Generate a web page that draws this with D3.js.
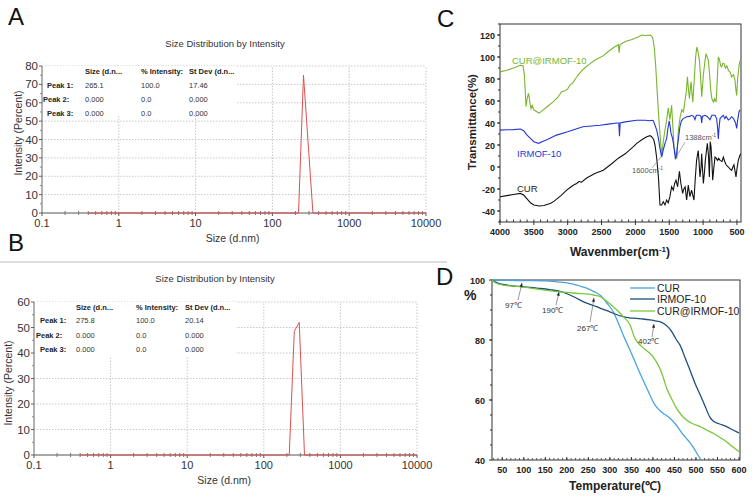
<!DOCTYPE html>
<html><head><meta charset="utf-8">
<script src="https://cdn.jsdelivr.net/npm/d3@7"></script>
<style>body{margin:0;background:#fff}svg{display:block;font-family:"Liberation Sans",Arial,sans-serif}</style>
</head><body>
<script>
// ---------- DATA ----------
const dlsSizeA = [0.4, 219, 254, 337, 10000];
const dlsIntA  = [0, 0, 75, 0, 0];
const dlsSizeB = [0.4, 215, 250, 290, 340, 10000];
const dlsIntB  = [0, 0, 48.5, 52, 0, 0];
const dlsXTicks = [0.1, 1, 10, 100, 1000, 10000];
const dlsXTickLabels = ["0.1", "1", "10", "100", "1000", "10000"];
const dlsYTicksA = [0, 10, 20, 30, 40, 50, 60, 70, 80];
const dlsYTicksB = [0, 10, 20, 30, 40, 50, 60];
const tableHeaders = ["Size (d.n...", "% Intensity:", "St Dev (d.n..."];
const peakLabels = ["Peak 1:", "Peak 2:", "Peak 3:"];
const tableA = [["265.1", "100.0", "17.46"], ["0.000", "0.0", "0.000"], ["0.000", "0.0", "0.000"]];
const tableB = [["275.8", "100.0", "20.14"], ["0.000", "0.0", "0.000"], ["0.000", "0.0", "0.000"]];

const ftirXTicks = [4000, 3500, 3000, 2500, 2000, 1500, 1000, 500];
const ftirYTicks = [120, 100, 80, 60, 40, 20, 0, -20, -40];
const ftirComposite = [[4000,86.5],[3900,88],[3800,90],[3700,92.5],[3660,92],[3640,84],[3630,72],[3615,55],[3600,62],[3580,67],[3565,62],[3555,57],[3540,53],[3525,56],[3500,52],[3450,50],[3420,49],[3380,51],[3300,55],[3220,59],[3150,63],[3090,68.5],[3050,69],[3000,71],[2966,74.5],[2930,76],[2847,83.6],[2800,87],[2750,90],[2670,94],[2600,97],[2478,101],[2400,105],[2300,109.5],[2250,111],[2240,104],[2228,111],[2150,114],[2050,116],[1950,118.5],[1907,120],[1850,119.5],[1780,120],[1745,118],[1720,108],[1700,92],[1680,70],[1660,50],[1637,30],[1612,11],[1590,22],[1560,35],[1540,42],[1515,53.6],[1490,43],[1465,56],[1445,35],[1430,18.5],[1400,8],[1388,8],[1365,33.6],[1340,45],[1315,52],[1290,50],[1265,61],[1245,70],[1232,82],[1215,70],[1202,62.4],[1190,70],[1177,77.5],[1165,68],[1152,59],[1130,80],[1110,100],[1093,109],[1075,105],[1054,97],[1040,85],[1020,64],[1010,72],[996,83.6],[975,95],[956,103],[940,100],[922,97],[905,85],[887,70],[870,62],[848,59],[830,62],[808,59],[790,80],[775,100],[760,98],[740,92],[726,91],[710,94],[691,94],[670,90],[650,92],[627,88],[600,86],[578,82],[550,84],[529,79],[515,70],[504,65],[490,80],[465,94],[450,97]];
const ftirIRMOF = [[4000,33.5],[3900,33.8],[3800,34],[3700,34.5],[3650,33],[3600,29],[3550,26],[3500,23],[3430,21.5],[3380,23],[3300,25],[3165,29],[3000,32],[2900,34],[2775,36.6],[2523,38],[2400,39],[2276,40],[2245,40],[2235,28],[2225,40],[2150,41],[1980,42.5],[1850,42.5],[1784,42],[1760,42.5],[1735,42],[1710,38],[1685,33.6],[1660,26],[1637,17],[1612,9],[1590,15],[1563,21.5],[1538,26],[1520,35],[1500,42],[1485,36],[1475,31],[1455,27],[1440,22],[1410,8],[1395,10],[1380,18.5],[1360,28],[1342,36.6],[1320,42],[1293,44],[1243,45.7],[1200,46],[1170,47],[1140,46],[1120,43],[1100,47],[1046,47],[1030,46],[1021,40],[1010,46],[972,47],[940,46],[898,43],[870,47],[824,47],[800,44],[785,35],[775,25.5],[765,35],[750,44],[726,45.7],[700,47],[680,44],[660,46],[627,42.7],[600,44],[578,45.7],[550,44],[520,40],[504,35],[490,42],[470,50],[455,52]];
const ftirCUR = [[4000,-27],[3900,-26],[3800,-25],[3700,-24],[3650,-25.5],[3600,-29],[3550,-32.5],[3500,-34.5],[3420,-35.5],[3350,-35],[3250,-33],[3200,-31],[3100,-26],[3015,-21],[2950,-18],[2900,-16],[2867,-15],[2830,-13],[2800,-14],[2720,-10],[2600,-6],[2474,-3],[2350,3],[2252,8],[2150,12],[2030,18.5],[1980,21.5],[1900,25],[1833,27.5],[1784,28.5],[1760,27.5],[1730,25],[1710,20],[1685,8],[1660,-9],[1637,-34.5],[1612,-34.5],[1588,-31.5],[1563,-34.5],[1538,-30],[1515,-32.5],[1490,-27],[1465,-18],[1440,-21],[1420,-15],[1400,-12],[1376,-18],[1350,-4],[1328,-15],[1302,-24],[1285,-20],[1265,-18],[1243,-30],[1219,-16.5],[1195,-27],[1170,-21],[1135,-30],[1115,-10],[1096,6],[1072,15],[1060,5],[1046,-9],[1030,0],[1021,12],[1010,0],[996,-15],[980,-5],[967,6],[950,15],[937,21.5],[920,10],[907,-9],[895,23],[883,18.5],[870,5],[858,-12],[840,0],[824,9],[805,8],[789,6],[770,8],[750,6],[720,5],[701,9],[680,5],[660,2],[627,0],[600,-2],[578,-3],[560,0],[544,2],[530,-3],[514,-9],[500,-2],[480,6],[460,10],[445,12]];

const tgaXTicks = [50, 100, 150, 200, 250, 300, 350, 400, 450, 500, 550, 600];
const tgaYTicks = [40, 60, 80, 100];
const tgaCUR = [[25,100],[50,99.9],[100,99.8],[150,99.7],[177,99.4],[207,98.9],[230,98],[246,97.3],[262,96.2],[277,95],[292,92.5],[308,89.4],[320,85.5],[331,81.7],[343,77.8],[355,73.9],[370,68.9],[386,63.9],[405,58.3],[420,56],[440,53.9],[455,51.5],[468,48.9],[482,46.5],[494,44.2],[503,42],[512,40]];
const tgaIRMOF = [[25,100],[40,99],[52,98.5],[75,98],[97,97.8],[130,97.3],[160,96.8],[190,96],[207,95],[222,94],[238,92.8],[254,91.9],[269,91.1],[285,90.2],[300,89.4],[315,88.5],[331,87.8],[346,87.4],[362,87.2],[377,87],[393,86.7],[405,86.4],[416,86.1],[426,85.4],[436,84.2],[446,82.3],[455,80],[463,78.3],[475,74],[486,70],[498,65.5],[510,61.7],[521,58],[532,54.4],[540,53],[555,52],[571,51.1],[586,50],[600,49]];
const tgaComposite = [[25,100],[35,99],[52,98.3],[91,97.8],[120,97.2],[145,96.7],[177,96.1],[207,95.8],[226,95.5],[245,95.4],[262,95],[277,94.5],[292,93],[308,91.1],[320,89.5],[331,87.8],[347,85],[358,80.6],[366,79],[374,77.8],[385,76.5],[397,75],[407,73],[416,70.6],[424,67.5],[432,63.9],[443,60.5],[455,57.2],[466,55],[478,53.3],[494,52],[510,51.1],[525,50],[540,48.9],[556,47.5],[571,46.1],[586,44.3],[602,42.6]];
const tgaSeriesNames = ["CUR", "IRMOF-10", "CUR@IRMOF-10"];
const tgaAnnotLabels = ["97℃", "190℃", "267℃", "402℃"];

// ---------- DRAW ----------
const svg = d3.select("body").append("svg").attr("width", 752).attr("height", 499);
svg.append("rect").attr("width", 752).attr("height", 499).attr("fill", "#fff");

function dlsPanel(o) {
  const g = svg.append("g");
  const x = d3.scaleLog().domain([0.1, 10000]).range([o.x0, o.x1]);
  const y = d3.scaleLinear().domain([0, o.ymax]).range([o.y0, o.y1]);
  o.yTicks.filter(v => v > 0).forEach(v => g.append("line").attr("x1", o.x0).attr("x2", o.x1).attr("y1", y(v)).attr("y2", y(v)).attr("stroke", "#c8c8c8").attr("stroke-dasharray", "1.5,1.5"));
  dlsXTicks.filter(v => v > 0.1).forEach(v => g.append("line").attr("x1", x(v)).attr("x2", x(v)).attr("y1", o.y0).attr("y2", o.y1).attr("stroke", "#c8c8c8").attr("stroke-dasharray", "1.5,1.5"));
  g.append("rect").attr("x", o.x0 + 1).attr("y", o.y1).attr("width", o.tw).attr("height", o.th).attr("fill", "#fff");
  g.append("line").attr("x1", o.x0).attr("x2", o.x0).attr("y1", o.y0).attr("y2", o.y1).attr("stroke", "#666");
  g.append("line").attr("x1", o.x0).attr("x2", o.x1).attr("y1", o.y0).attr("y2", o.y0).attr("stroke", "#555");
  o.yTicks.forEach(v => g.append("line").attr("x1", o.x0 - 3).attr("x2", o.x0).attr("y1", y(v)).attr("y2", y(v)).attr("stroke", "#666"));
  o.yTicks.slice(0, -1).forEach(v => g.append("line").attr("x1", o.x0 - 2).attr("x2", o.x0).attr("y1", y(v + 5)).attr("y2", y(v + 5)).attr("stroke", "#888"));
  o.yTicks.forEach(v => g.append("text").attr("x", o.x0 - 4).attr("y", y(v) + 4).attr("text-anchor", "end").attr("font-size", 11.5).attr("fill", "#333").text(v));
  dlsXTicks.forEach((v, i) => {
    g.append("line").attr("x1", x(v)).attr("x2", x(v)).attr("y1", o.y0).attr("y2", o.y0 + 3).attr("stroke", "#555");
    g.append("text").attr("x", x(v)).attr("y", o.y0 + 14).attr("text-anchor", "middle").attr("font-size", 11).attr("fill", "#333").text(dlsXTickLabels[i]);
    if (v < 10000) for (let k = 2; k <= 9; k++) g.append("line").attr("x1", x(v * k)).attr("x2", x(v * k)).attr("y1", o.y0 - 2).attr("y2", o.y0 + 2).attr("stroke", "#777");
  });
  const pts = o.sizes.map((s, i) => [s, o.ints[i]]);
  g.append("path").attr("d", d3.line().x(d => x(d[0])).y(d => y(d[1]))(pts)).attr("fill", "none").attr("stroke", "#d9534f").attr("stroke-width", 1);
  g.append("text").attr("x", o.tx).attr("y", o.ty).attr("text-anchor", "middle").attr("font-size", 9.5).attr("fill", "#333").text("Size Distribution by Intensity");
  g.append("text").attr("x", (o.x0 + x(1000)) / 2 + o.xlOff).attr("y", o.y0 + 29).attr("text-anchor", "middle").attr("font-size", 10.5).attr("fill", "#333").text("Size (d.nm)");
  g.append("text").attr("transform", `translate(${o.ylx},${o.yly}) rotate(-90)`).attr("text-anchor", "middle").attr("font-size", 10.5).attr("fill", "#333").text("Intensity (Percent)");
  g.append("text").attr("x", o.lx).attr("y", o.ly).attr("font-size", 24).attr("fill", "#111").text(o.letter);
  o.cols.forEach((cx, i) => g.append("text").attr("x", cx).attr("y", o.rows[0]).attr("font-size", 7.5).attr("font-weight", "bold").attr("fill", "#222").text(tableHeaders[i]));
  peakLabels.forEach((p, r) => {
    g.append("text").attr("x", o.plx[r]).attr("y", o.rows[r + 1]).attr("font-size", 7.5).attr("font-weight", "bold").attr("fill", "#222").text(p);
    o.table[r].forEach((val, c) => g.append("text").attr("x", o.cols[c]).attr("y", o.rows[r + 1]).attr("font-size", 7.5).attr("fill", "#333").text(val));
  });
}

dlsPanel({x0: 42, x1: 426, y0: 213, y1: 66, ymax: 80, yTicks: dlsYTicksA, sizes: dlsSizeA, ints: dlsIntA,
  tw: 193, th: 50, tx: 225, ty: 47, xlOff: 37, ylx: 22, yly: 133, lx: 8, ly: 25, letter: "A",
  cols: [85, 141, 189], rows: [74, 88, 102, 116], plx: [47, 43, 47], table: tableA});
dlsPanel({x0: 34, x1: 417, y0: 455, y1: 302, ymax: 60, yTicks: dlsYTicksB, sizes: dlsSizeB, ints: dlsIntB,
  tw: 201, th: 55, tx: 215, ty: 282, xlOff: 37, ylx: 12, yly: 383, lx: 8, ly: 251, letter: "B",
  cols: [76, 136, 185], rows: [310, 323, 338, 352], plx: [40, 36, 40], table: tableB});

svg.append("line").attr("x1", 0).attr("x2", 447).attr("y1", 262).attr("y2", 262).attr("stroke", "#bbb");

// ---------- Panel C (FTIR) ----------
{
  const g = svg.append("g");
  const x = d3.scaleLinear().domain([4000, 440]).range([500, 741]);
  const y = d3.scaleLinear().domain([-50, 130]).range([222, 24]);
  g.append("rect").attr("x", 460).attr("y", 0).attr("width", 292).attr("height", 260).attr("fill", "#fff");
  g.append("rect").attr("x", 500).attr("y", 24).attr("width", 241).attr("height", 198).attr("fill", "none").attr("stroke", "#333").attr("stroke-width", 1);
  ftirYTicks.forEach(v => {
    g.append("line").attr("x1", 497).attr("x2", 500).attr("y1", y(v)).attr("y2", y(v)).attr("stroke", "#333");
    g.append("text").attr("x", 495).attr("y", y(v) + 3.5).attr("text-anchor", "end").attr("font-size", 9).attr("font-weight", "bold").attr("fill", "#222").text(v);
  });
  d3.range(-50, 131, 10).forEach(v => g.append("line").attr("x1", 498).attr("x2", 500).attr("y1", y(v)).attr("y2", y(v)).attr("stroke", "#333"));
  d3.range(500, 4001, 100).forEach(v => g.append("line").attr("x1", x(v)).attr("x2", x(v)).attr("y1", 222).attr("y2", 219.5).attr("stroke", "#333"));
  ftirXTicks.forEach(v => {
    g.append("line").attr("x1", x(v)).attr("x2", x(v)).attr("y1", 222).attr("y2", 225).attr("stroke", "#333");
    g.append("text").attr("x", x(v)).attr("y", 235).attr("text-anchor", "middle").attr("font-size", 9).attr("font-weight", "bold").attr("fill", "#222").text(v);
  });
  const line = d3.line().x(d => x(d[0])).y(d => y(d[1]));
  g.append("path").attr("d", line(ftirComposite)).attr("fill", "none").attr("stroke", "#78b52c").attr("stroke-width", 1.1);
  g.append("path").attr("d", line(ftirIRMOF)).attr("fill", "none").attr("stroke", "#2236d6").attr("stroke-width", 1.1);
  g.append("path").attr("d", line(ftirCUR)).attr("fill", "none").attr("stroke", "#111").attr("stroke-width", 1.1);
  g.append("text").attr("x", 512).attr("y", 64).attr("font-size", 9.5).attr("fill", "#78b52c").text("CUR@IRMOF-10");
  g.append("text").attr("x", 517).attr("y", 157).attr("font-size", 9.5).attr("fill", "#2236d6").text("IRMOF-10");
  g.append("text").attr("x", 517).attr("y", 192).attr("font-size", 9.5).attr("fill", "#222").text("CUR");
  const a1 = g.append("text").attr("x", 632).attr("y", 173).attr("font-size", 7.5).attr("fill", "#555");
  a1.append("tspan").text("1600cm");
  a1.append("tspan").attr("dy", -3).attr("font-size", 5).text("-1");
  g.append("line").attr("x1", 652).attr("y1", 168).attr("x2", x(1612)).attr("y2", y(10)).attr("stroke", "#888").attr("stroke-width", 0.7);
  const a2 = g.append("text").attr("x", 685).attr("y", 140).attr("font-size", 7.5).attr("fill", "#555");
  a2.append("tspan").text("1388cm");
  a2.append("tspan").attr("dy", -3).attr("font-size", 5).text("-1");
  g.append("line").attr("x1", 685).attr("y1", 142).attr("x2", x(1388)).attr("y2", y(10)).attr("stroke", "#888").attr("stroke-width", 0.7);
  g.append("text").attr("transform", "translate(476,122) rotate(-90)").attr("text-anchor", "middle").attr("font-size", 11.5).attr("font-weight", "bold").attr("fill", "#222").text("Transmittance(%)");
  const wl = g.append("text").attr("x", 620).attr("y", 256).attr("text-anchor", "middle").attr("font-size", 12).attr("font-weight", "bold").attr("fill", "#222");
  wl.append("tspan").text("Wavenmber(cm");
  wl.append("tspan").attr("dy", -4).attr("font-size", 8).text("-1");
  wl.append("tspan").attr("dy", 4).text(")");
  g.append("text").attr("x", 437).attr("y", 27).attr("font-size", 24).attr("fill", "#111").text("C");
}

// ---------- Panel D (TGA) ----------
{
  const g = svg.append("g");
  const x = d3.scaleLinear().domain([25, 600]).range([491.5, 739]);
  const y = d3.scaleLinear().domain([40, 100]).range([460, 280]);
  g.append("rect").attr("x", 460).attr("y", 262).attr("width", 292).attr("height", 237).attr("fill", "#fff");
  g.append("rect").attr("x", 492).attr("y", 280).attr("width", 248).attr("height", 180).attr("fill", "none").attr("stroke", "#333");
  tgaYTicks.forEach(v => {
    g.append("line").attr("x1", 489).attr("x2", 492).attr("y1", y(v)).attr("y2", y(v)).attr("stroke", "#333");
    g.append("text").attr("x", 485).attr("y", y(v) + 3.5).attr("text-anchor", "end").attr("font-size", 9).attr("font-weight", "bold").attr("fill", "#222").text(v);
  });
  d3.range(45, 100, 5).forEach(v => g.append("line").attr("x1", 490).attr("x2", 492).attr("y1", y(v)).attr("y2", y(v)).attr("stroke", "#333"));
  d3.range(30, 600, 10).forEach(v => g.append("line").attr("x1", x(v)).attr("x2", x(v)).attr("y1", 460).attr("y2", 458).attr("stroke", "#555"));
  tgaXTicks.forEach(v => {
    g.append("line").attr("x1", x(v)).attr("x2", x(v)).attr("y1", 460).attr("y2", 457).attr("stroke", "#333");
    g.append("text").attr("x", x(v)).attr("y", 473).attr("text-anchor", "middle").attr("font-size", 9).attr("font-weight", "bold").attr("fill", "#222").text(v);
  });
  const line = d3.line().x(d => x(d[0])).y(d => y(d[1])).curve(d3.curveMonotoneX);
  const cols = ["#4ba3de", "#1d4f7c", "#77c83a"];
  g.append("clipPath").attr("id", "clipD").append("rect").attr("x", 492).attr("y", 279).attr("width", 248).attr("height", 181);
  [tgaCUR, tgaIRMOF, tgaComposite].forEach((s, i) => g.append("path").attr("d", line(s)).attr("fill", "none").attr("stroke", cols[i]).attr("stroke-width", 1.3).attr("clip-path", "url(#clipD)"));
  const ly = [288, 299, 311];
  tgaSeriesNames.forEach((n, i) => {
    g.append("line").attr("x1", 630).attr("x2", 655).attr("y1", ly[i]).attr("y2", ly[i]).attr("stroke", cols[i]).attr("stroke-width", 1.3);
    g.append("text").attr("x", 657).attr("y", ly[i] + 4).attr("font-size", 10.5).attr("fill", "#222").text(n);
  });
  const ann = [
    {t: tgaAnnotLabels[0], lx: 505, ly: 308, x1: 518, y1: 300, x2: 522, y2: 283},
    {t: tgaAnnotLabels[1], lx: 542, ly: 313, x1: 556, y1: 305, x2: 559, y2: 292},
    {t: tgaAnnotLabels[2], lx: 577, ly: 331, x1: 590, y1: 322, x2: 594, y2: 298},
    {t: tgaAnnotLabels[3], lx: 638, ly: 344, x1: 652, y1: 337, x2: 654, y2: 324}
  ];
  ann.forEach(a => {
    g.append("text").attr("x", a.lx).attr("y", a.ly).attr("font-size", 8).attr("fill", "#333").text(a.t);
    g.append("line").attr("x1", a.x1).attr("y1", a.y1).attr("x2", a.x2).attr("y2", a.y2).attr("stroke", "#555").attr("stroke-width", 0.6);
    const ang = Math.atan2(a.y2 - a.y1, a.x2 - a.x1);
    const p = [[a.x2, a.y2], [a.x2 - 4 * Math.cos(ang - 0.4), a.y2 - 4 * Math.sin(ang - 0.4)], [a.x2 - 4 * Math.cos(ang + 0.4), a.y2 - 4 * Math.sin(ang + 0.4)]];
    g.append("path").attr("d", "M" + p.join("L") + "Z").attr("fill", "#222");
  });
  g.append("text").attr("x", 464).attr("y", 300).attr("font-size", 14).attr("font-weight", "bold").attr("fill", "#222").text("%");
  g.append("text").attr("x", 615).attr("y", 490).attr("text-anchor", "middle").attr("font-size", 12).attr("font-weight", "bold").attr("fill", "#222").text("Temperature(℃)");
  g.append("text").attr("x", 436).attr("y", 285).attr("font-size", 24).attr("fill", "#111").text("D");
}
</script>
</body></html>
